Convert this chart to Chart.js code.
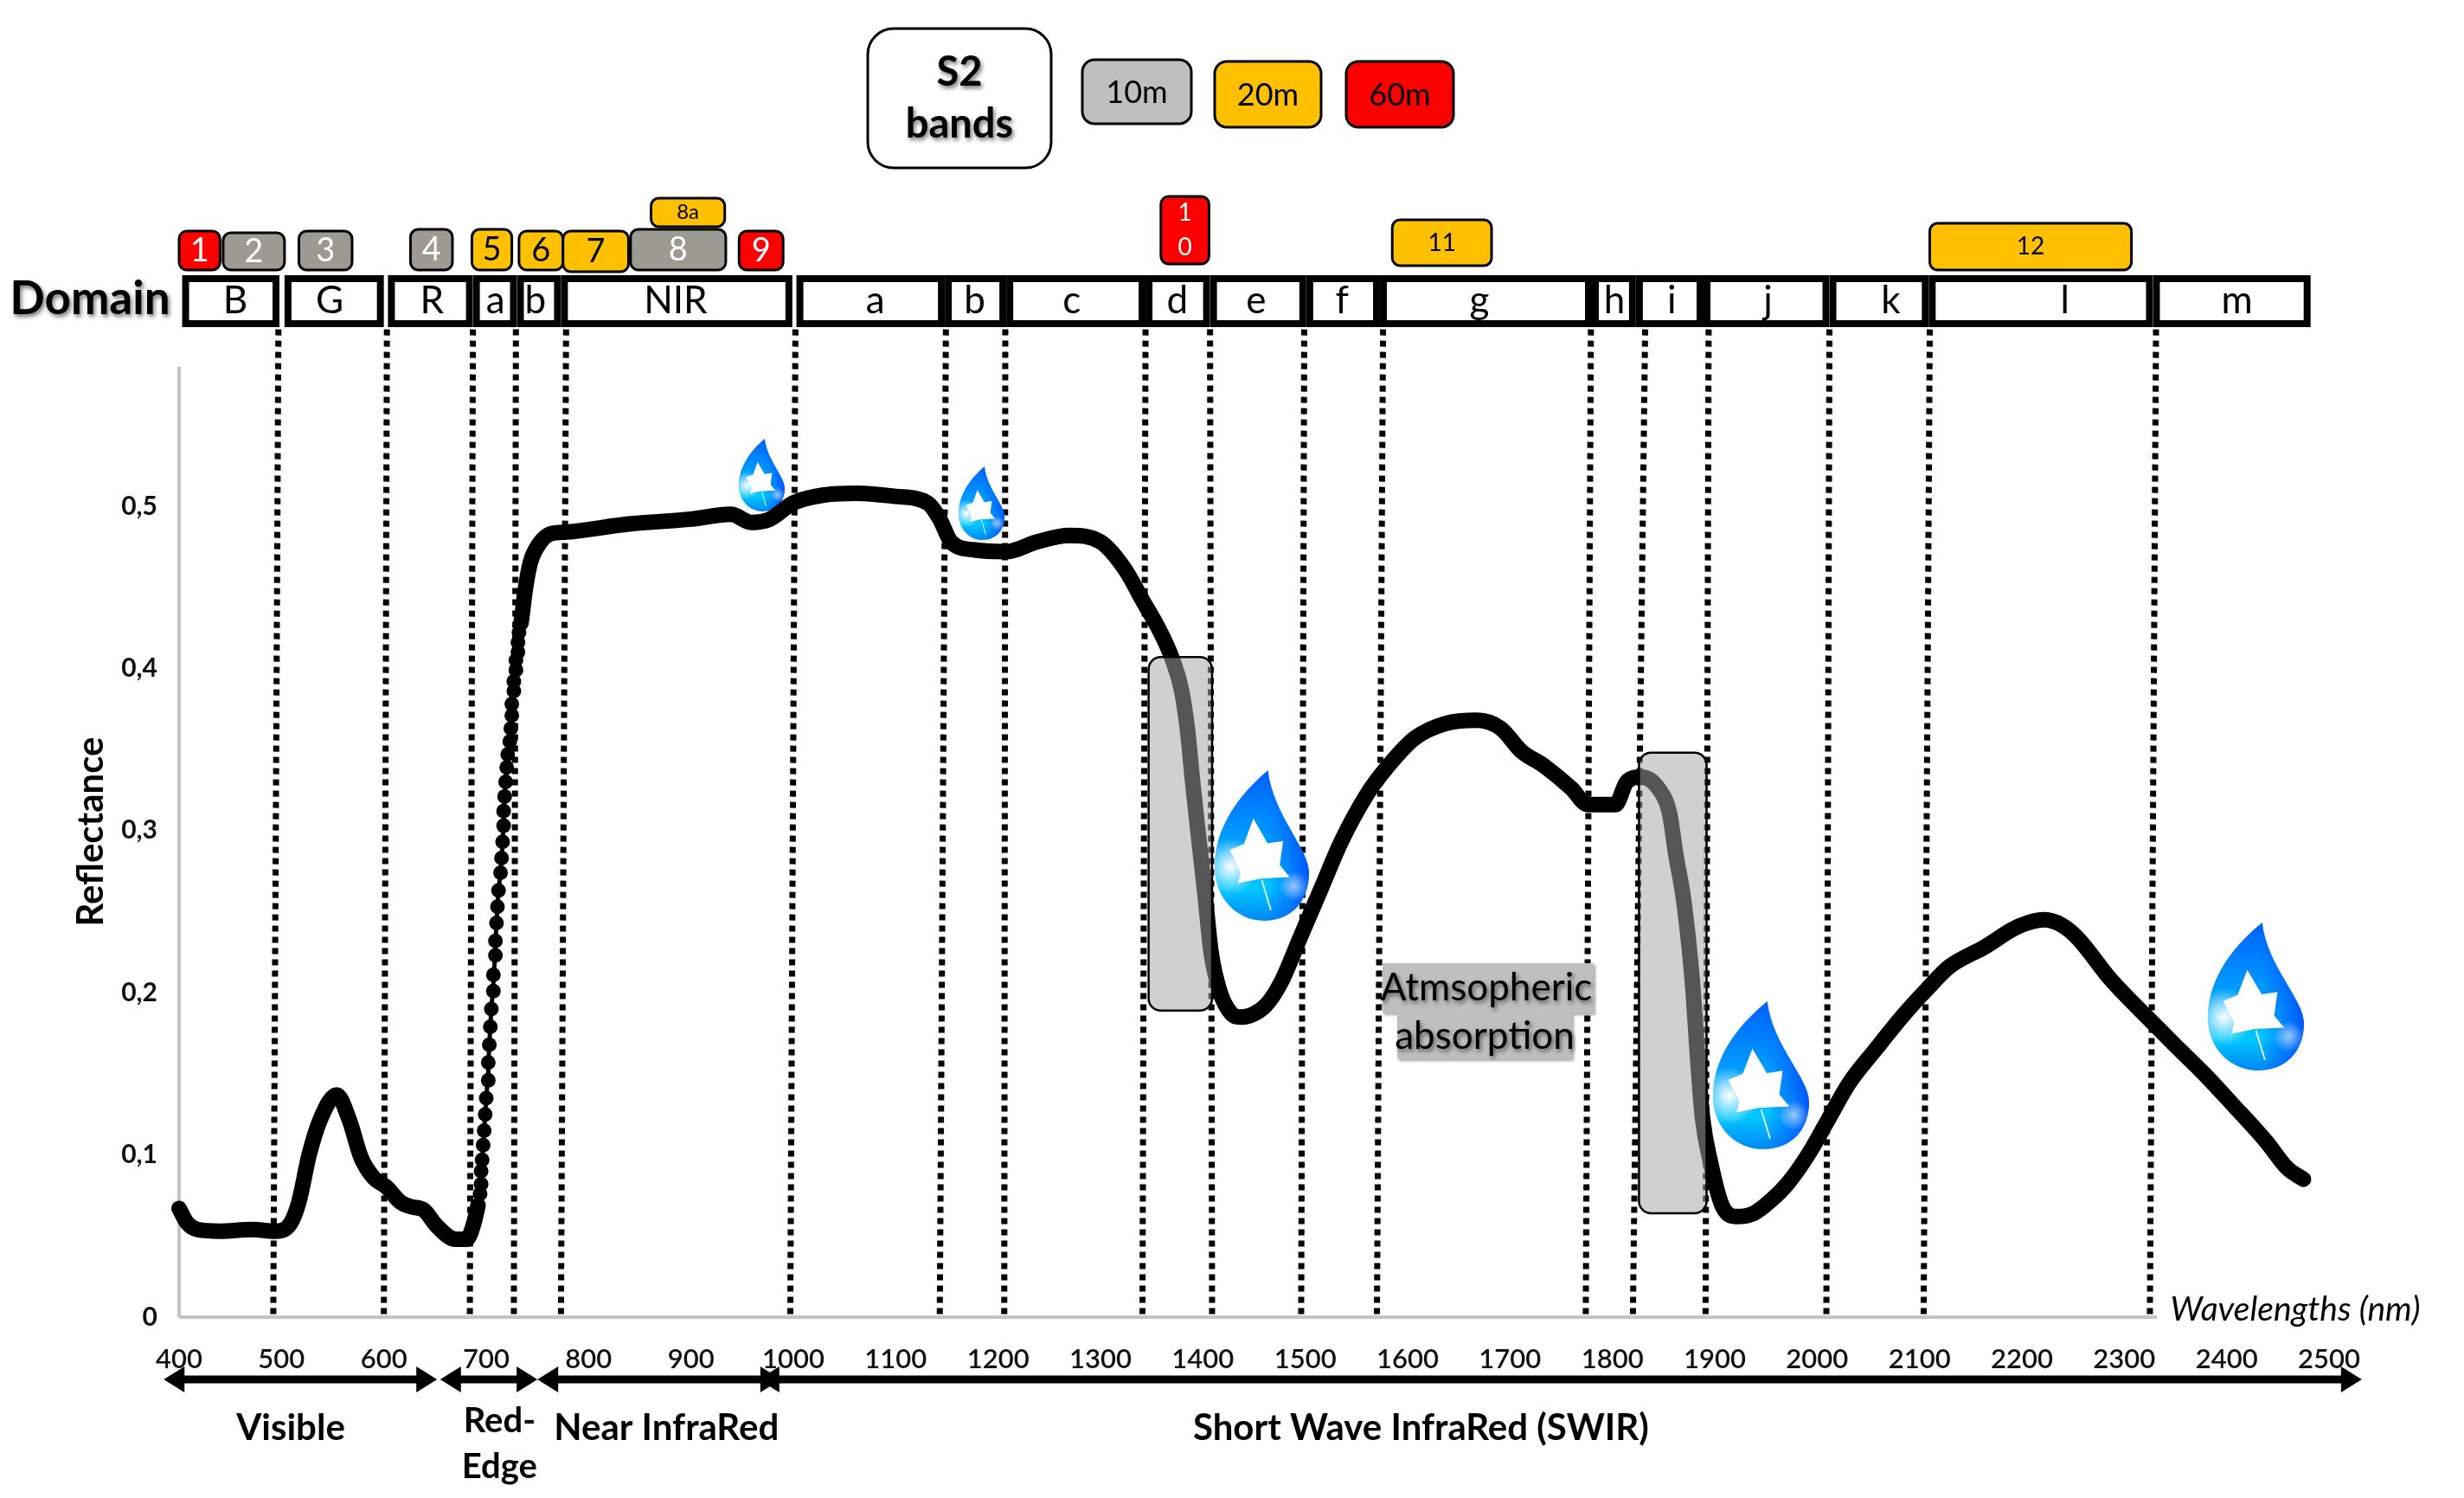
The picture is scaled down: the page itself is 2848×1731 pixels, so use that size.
<!DOCTYPE html>
<html lang="en">
<head>
    <meta charset="UTF-8">
    <title>Reflectance</title>
    <script src="https://cdn.jsdelivr.net/npm/chart.js"></script>
    <style>
        html, body { margin: 0; padding: 0; background: #fff; }
        canvas { display: block; }
    </style>
</head>
<body>
    <canvas id="myChart" width="2848" height="1731"></canvas>
    <script>
        // reflectance curve
        const wavelengths = [400,408,418,440,471,494,509,517,527,538,554,566,578,590,603,616,627,639,652,670,681,687,
            692,694,695,695,696,697,698,699,700,702,702,703,704,705,707,707,709,709,710,711,712,714,715,716,717,717,718,719,720,721,723,724,725,725,727,727,729,729,731,731,732,734,
            738,743,752,763,778,839,900,939,959,977,1000,1031,1062,1100,1131,1143,1154,1177,1208,1238,1269,1300,
            1324,1341,1358,1370,1379,1385,1390,1396,1402,1408,1417,1428,1436,1461,1476,1495,1516,1535,1560,1576,1607,1637,1668,1691,1711,1733,1760,1776,1803,1814,1828,1845,1856,1862,1869,1875,1879,1883,1888,1896,1907,1922,1938,1955,1972,1992,2011,2031,2057,2084,2107,2129,2163,2197,2222,2238,2254,2287,2327,2349,2378,2406,2439,2459,2475];
        const reflectance = [.067,.058,.054,.053,.054,.053,.058,.071,.100,.122,.137,.122,.098,.086,.080,.071,.068,.066,.056,.048,.048,.056,
            .069,.076,.082,.090,.097,.106,.115,.125,.135,.146,.157,.168,.179,.190,.201,.211,.223,.232,.243,.253,.263,.274,.283,.293,.303,.312,.321,.330,.339,.347,.355,.363,.371,.378,.386,.392,.399,.405,.410,.416,.422,.428,
            .448,.465,.477,.483,.484,.489,.492,.495,.490,.492,.502,.507,.508,.506,.502,.492,.478,.473,.472,.478,.482,.478,
            .461,.442,.423,.406,.387,.362,.330,.295,.261,.225,.200,.187,.185,.192,.206,.234,.265,.293,.322,.336,.357,.366,.368,.363,.349,.340,.326,.316,.316,.330,.333,.326,.310,.285,.260,.228,.200,.162,.123,.095,.069,.062,.064,.072,.083,.101,.122,.144,.165,.186,.202,.216,.228,.241,.245,.242,.234,.208,.182,.168,.150,.131,.108,.092,.085];
        const beadFrom = 692, beadTo = 734;

        const xTickValues = [400,500,600,700,800,900,1000,1100,1200,1300,1400,1500,1600,1700,1800,1900,2000,2100,2200,2300,2400,2500];
        const yTickValues = [0,0.1,0.2,0.3,0.4,0.5];

        // dotted domain limits, slightly slanted in the source
        const dottedTop = [497,603,687,729,778,1002,1149,1207,1344,1407,1499,1576,1779,1832,1894,2012,2110,2331];
        const dottedBottom = [492,600,684,727,773,997,1143,1206,1341,1409,1496,1570,1774,1820,1891,2009,2104,2325];
        const dottedTopValue = 0.609;

        const domainNames = ['B','G','R','a','b','NIR','a','b','c','d','e','f','g','h','i','j','k','l','m'];
        const domainStart = [403,503,604,687,730,773,1003,1148,1208,1344,1407,1501,1573,1780,1823,1889,2012,2109,2328];
        const domainEnd = [498,600,687,730,773,999,1148,1208,1344,1407,1501,1573,1780,1823,1889,2012,2109,2328,2482];
        const domainLabelAt = [455,547,647,709,748,885,1080,1177,1272,1375,1452,1536,1670,1802,1858,1952,2072,2242,2410];

        const bandNames = ['1','2','3','4','5','6','7','8','8a','9','1\n0','11','12'];
        const bandStart = [400,443,517,626,686,732,775,841,861,947,1359,1585,2110];
        const bandEnd = [440,503,569,667,725,775,839,934,933,990,1406,1682,2307];
        const bandResolution = [60,10,10,10,20,20,20,10,20,60,60,20,20];

        const regionNames = ['Visible','Red-\nEdge','Near InfraRed','Short Wave InfraRed (SWIR)'];
        const regionStart = [385,655,750,966];
        const regionEnd = [652,750,988,2532];
        const regionLabelAt = [509,713,876,1613];

        const absorptionStart = [1347,1826];
        const absorptionEnd = [1409,1892];
        const absorptionHigh = [.407,.348];
        const absorptionLow = [.189,.064];

        const legendLabels = ['10m','20m','60m'];

        // pixel layout and styles
        const FONT = 'Lato, Carlito, sans-serif';
        const PLOT = { left: 207, right: 2692, top: 360, bottom: 1522 };
        const Y_AXIS_WIDTH = 120;
        const resolutionFill = { 10: '#9d9a94', 20: '#ffc000', 60: '#ff0000' };
        const resolutionInk = { 10: '#fff', 20: '#000', 60: '#fff' };
        const bandTop = [267,269,267,265,265,267,267,265,229,267,227,254,258];
        const bandBottom = [312,312,312,312,312,312,314,312,262,312,305,307,312];
        const bandFont = [38,38,38,38,38,38,38,38,24,38,28,28,28];
        const legendBoxes = [
            { x: 1251, y: 69, w: 126, h: 74, fill: '#bfbfbf' },
            { x: 1404, y: 71, w: 123, h: 76, fill: '#ffc000' },
            { x: 1556, y: 71, w: 124, h: 76, fill: '#ff0000' }
        ];
        const dropBoxes = [
            { x: 854, y: 507, w: 53, h: 84 },
            { x: 1108, y: 539, w: 53, h: 85 },
            { x: 1404, y: 890, w: 109, h: 174 },
            { x: 1980, y: 1157, w: 111, h: 171 },
            { x: 2552, y: 1066, w: 111, h: 171 }
        ];

        function box(ctx, x, y, w, h, r, fill, stroke, lw) {
            ctx.beginPath();
            ctx.roundRect(x, y, w, h, r);
            if (fill) { ctx.fillStyle = fill; ctx.fill(); }
            if (stroke) { ctx.strokeStyle = stroke; ctx.lineWidth = lw; ctx.stroke(); }
        }

        function text(ctx, str, x, y, font, color, shadow) {
            ctx.save();
            ctx.font = font;
            ctx.fillStyle = color || '#000';
            ctx.textAlign = 'center';
            ctx.textBaseline = 'middle';
            if (shadow) {
                ctx.shadowColor = 'rgba(0,0,0,0.55)';
                ctx.shadowBlur = 5;
                ctx.shadowOffsetX = 2;
                ctx.shadowOffsetY = 3;
            }
            ctx.fillText(str, x, y);
            ctx.restore();
        }

        function drawDrop(ctx, d) {
            const px = (u) => d.x + u * d.w;
            const py = (v) => d.y + v * d.h;
            ctx.save();
            ctx.beginPath();
            ctx.moveTo(px(.565), py(0));
            ctx.bezierCurveTo(px(.3), py(.14), px(0), py(.36), px(0), py(.64));
            ctx.bezierCurveTo(px(0), py(.86), px(.25), py(1), px(.52), py(1));
            ctx.bezierCurveTo(px(.8), py(1), px(1), py(.88), px(1), py(.68));
            ctx.bezierCurveTo(px(1), py(.52), px(.62), py(.3), px(.565), py(0));
            ctx.closePath();
            ctx.clip();
            const base = ctx.createLinearGradient(0, d.y, 0, d.y + d.h);
            base.addColorStop(0, '#0060ff');
            base.addColorStop(.4, '#0096ff');
            base.addColorStop(.78, '#00c8ff');
            base.addColorStop(1, '#0088f5');
            ctx.fillStyle = base;
            ctx.fillRect(d.x, d.y, d.w, d.h);
            const rim = ctx.createLinearGradient(px(.55), 0, px(1), 0);
            rim.addColorStop(0, 'rgba(0,80,255,0)');
            rim.addColorStop(1, 'rgba(0,80,255,0.95)');
            ctx.fillStyle = rim;
            ctx.fillRect(d.x, d.y, d.w, d.h);
            const glow = ctx.createRadialGradient(px(.17), py(.64), 0, px(.17), py(.64), d.w * .3);
            glow.addColorStop(0, 'rgba(255,255,255,1)');
            glow.addColorStop(1, 'rgba(255,255,255,0)');
            ctx.fillStyle = glow;
            ctx.fillRect(d.x, d.y, d.w, d.h);
            const shine = ctx.createRadialGradient(px(.84), py(.77), 0, px(.84), py(.77), d.w * .16);
            shine.addColorStop(0, 'rgba(190,215,255,0.8)');
            shine.addColorStop(1, 'rgba(190,215,255,0)');
            ctx.fillStyle = shine;
            ctx.fillRect(d.x, d.y, d.w, d.h);
            // white leaf
            ctx.fillStyle = '#fff';
            ctx.beginPath();
            [[.41,.32],[.31,.49],[.16,.53],[.275,.68],[.245,.75],[.49,.72],[.795,.71],[.69,.63],[.725,.47],[.56,.485]].forEach((p, i) => {
                if (i === 0) ctx.moveTo(px(p[0]), py(p[1])); else ctx.lineTo(px(p[0]), py(p[1]));
            });
            ctx.closePath();
            ctx.fill();
            ctx.strokeStyle = '#e8f4ff';
            ctx.lineWidth = Math.max(1, d.w / 60);
            ctx.beginPath();
            ctx.moveTo(px(.5), py(.73));
            ctx.lineTo(px(.595), py(.93));
            ctx.stroke();
            ctx.restore();
        }

        function drawArrow(ctx, x1, x2, y) {
            const head = 24, half = 15;
            ctx.fillStyle = '#000';
            ctx.fillRect(x1 + 10, y - 4.5, x2 - x1 - 20, 9);
            ctx.beginPath();
            ctx.moveTo(x2, y); ctx.lineTo(x2 - head, y - half); ctx.lineTo(x2 - head, y + half); ctx.closePath();
            ctx.moveTo(x1, y); ctx.lineTo(x1 + head, y - half); ctx.lineTo(x1 + head, y + half); ctx.closePath();
            ctx.fill();
        }

        const sketchPlugin = {
            id: 'sketch',
            // droplets sit under the curve but over the dotted limits
            beforeDatasetDraw(chart, args) {
                if (chart.data.datasets[args.index].label !== 'Reflectance') return;
                dropBoxes.forEach(d => drawDrop(chart.ctx, d));
            },
            afterDatasetsDraw(chart) {
                const ctx = chart.ctx;
                const x = chart.scales.x, y = chart.scales.y;
                // atmospheric absorption windows, see-through over the curve
                absorptionStart.forEach((s, i) => {
                    const x1 = x.getPixelForValue(s), x2 = x.getPixelForValue(absorptionEnd[i]);
                    const y1 = y.getPixelForValue(absorptionHigh[i]), y2 = y.getPixelForValue(absorptionLow[i]);
                    box(ctx, x1, y1, x2 - x1, y2 - y1, 14, 'rgba(164,164,164,0.52)', '#000', 2.5);
                });
                // Atmsopheric label
                ctx.save();
                ctx.shadowColor = 'rgba(0,0,0,0.35)';
                ctx.shadowBlur = 3;
                ctx.shadowOffsetX = 2;
                ctx.shadowOffsetY = 2;
                ctx.fillStyle = '#bfbfbf';
                ctx.fillRect(1598, 1113, 244, 58);
                ctx.fillRect(1615, 1171, 202, 53);
                ctx.restore();
                text(ctx, 'Atmsopheric', 1718, 1142, '44px ' + FONT, '#000', true);
                text(ctx, 'absorption', 1716, 1198, '44px ' + FONT, '#000', true);

                // domain strip
                domainNames.forEach((name, i) => {
                    const x1 = x.getPixelForValue(domainStart[i]), x2 = x.getPixelForValue(domainEnd[i]);
                    ctx.fillStyle = '#fff';
                    ctx.fillRect(x1, 318, x2 - x1, 60);
                    ctx.strokeStyle = '#000';
                    ctx.lineWidth = 8;
                    ctx.strokeRect(x1 + 4, 322, x2 - x1 - 8, 52);
                    text(ctx, name, x.getPixelForValue(domainLabelAt[i]), 348, '44px ' + FONT);
                });
                text(ctx, 'Domain', 104, 346, 'bold 53px ' + FONT, '#000', true);

                // Sentinel-2 bands
                bandNames.forEach((name, i) => {
                    const x1 = x.getPixelForValue(bandStart[i]), x2 = x.getPixelForValue(bandEnd[i]);
                    const res = bandResolution[i];
                    box(ctx, x1, bandTop[i], x2 - x1, bandBottom[i] - bandTop[i], 9, resolutionFill[res], '#000', 3);
                    const lines = name.split('\n');
                    const cy = (bandTop[i] + bandBottom[i]) / 2;
                    lines.forEach((line, k) => {
                        text(ctx, line, (x1 + x2) / 2, cy + (k - (lines.length - 1) / 2) * 40, bandFont[i] + 'px ' + FONT, resolutionInk[res]);
                    });
                });

                // legend
                box(ctx, 1003, 33, 212, 161, 30, '#fff', '#000', 3);
                text(ctx, 'S2', 1109, 84, 'bold 47px ' + FONT, '#000', true);
                text(ctx, 'bands', 1109, 144, 'bold 47px ' + FONT, '#000', true);
                legendBoxes.forEach((b, i) => {
                    box(ctx, b.x, b.y, b.w, b.h, 14, b.fill, '#000', 3);
                    text(ctx, legendLabels[i], b.x + b.w / 2, b.y + b.h / 2 + 1, '36px ' + FONT);
                });

                // regions under the axis
                regionNames.forEach((name, i) => {
                    const x1 = x.getPixelForValue(regionStart[i]), x2 = x.getPixelForValue(regionEnd[i]);
                    drawArrow(ctx, x1, x2, 1594);
                    const cx = x.getPixelForValue(regionLabelAt[i]);
                    const lines = name.split('\n');
                    if (lines.length > 1) {
                        text(ctx, lines[0], cx, 1642, 'bold 40px ' + FONT);
                        text(ctx, lines[1], cx, 1695, 'bold 40px ' + FONT);
                    } else {
                        text(ctx, name, cx, 1650, 'bold 42px ' + FONT);
                    }
                });

                text(ctx, 'Wavelengths (nm)', 2653, 1513, 'italic 39px ' + FONT);

                ctx.save();
                ctx.translate(105, 961);
                ctx.rotate(-Math.PI / 2);
                text(ctx, 'Reflectance', 0, 0, 'bold 42px ' + FONT);
                ctx.restore();
            }
        };

        const dottedSets = dottedTop.map((t, i) => ({
            label: 'limit ' + i,
            data: [{ x: t, y: dottedTopValue }, { x: dottedBottom[i], y: 0 }],
            borderColor: '#000',
            borderWidth: 7,
            borderDash: [7, 6],
            pointRadius: 0,
            order: 3
        }));

        const points = wavelengths.map((w, i) => ({ x: w, y: reflectance[i] }));
        const inBeads = (w) => w >= beadFrom && w <= beadTo;

        new Chart(document.getElementById('myChart'), {
            type: 'line',
            plugins: [sketchPlugin],
            data: {
                datasets: [
                    {
                        label: 'Reflectance',
                        data: points,
                        clip: false,
                        borderColor: '#000',
                        backgroundColor: '#000',
                        borderWidth: 18,
                        borderCapStyle: 'round',
                        borderJoinStyle: 'round',
                        cubicInterpolationMode: 'monotone',
                        pointRadius: ctx => inBeads(ctx.parsed.x) ? 8.5 : 0,
                        pointBorderWidth: 0,
                        segment: {
                            borderWidth: ctx => (inBeads(ctx.p0.parsed.x) && inBeads(ctx.p1.parsed.x)) ? 5 : 18
                        },
                        order: 1
                    },
                    {
                        label: 'x axis',
                        data: [{ x: 400, y: 0 }, { x: 2332, y: 0 }],
                        clip: false,
                        borderColor: '#c4c4c4',
                        borderWidth: 4,
                        pointRadius: 0,
                        order: 4
                    },
                    {
                        label: 'y axis',
                        data: [{ x: 400, y: 0 }, { x: 400, y: 0.586 }],
                        clip: false,
                        borderColor: '#c4c4c4',
                        borderWidth: 4,
                        pointRadius: 0,
                        order: 4
                    },
                    ...dottedSets
                ]
            },
            options: {
                responsive: false,
                animation: false,
                events: [],
                layout: {
                    padding: {
                        left: PLOT.left - Y_AXIS_WIDTH,
                        right: 2848 - PLOT.right,
                        top: PLOT.top,
                        bottom: 1731 - PLOT.bottom - 60
                    }
                },
                plugins: { legend: { display: false }, tooltip: { enabled: false }, title: { display: false } },
                scales: {
                    x: {
                        type: 'linear',
                        min: 400,
                        max: 2500,
                        afterFit: s => { s.height = 60; },
                        afterBuildTicks: s => { s.ticks = xTickValues.map(v => ({ value: v })); },
                        grid: { display: false, drawTicks: false },
                        border: { display: false },
                        ticks: {
                            autoSkip: false,
                            maxRotation: 0,
                            padding: 30,
                            color: '#111',
                            font: { family: FONT, size: 31, weight: '600' },
                            callback: v => String(v)
                        }
                    },
                    y: {
                        type: 'linear',
                        min: 0,
                        max: 0.62,
                        afterFit: s => { s.width = Y_AXIS_WIDTH; },
                        afterBuildTicks: s => { s.ticks = yTickValues.map(v => ({ value: v })); },
                        grid: { display: false, drawTicks: false },
                        border: { display: false },
                        ticks: {
                            padding: 25,
                            color: '#111',
                            font: { family: FONT, size: 30, weight: 'bold' },
                            callback: v => String(v).replace('.', ',')
                        }
                    }
                }
            }
        });
    </script>
</body>
</html>
